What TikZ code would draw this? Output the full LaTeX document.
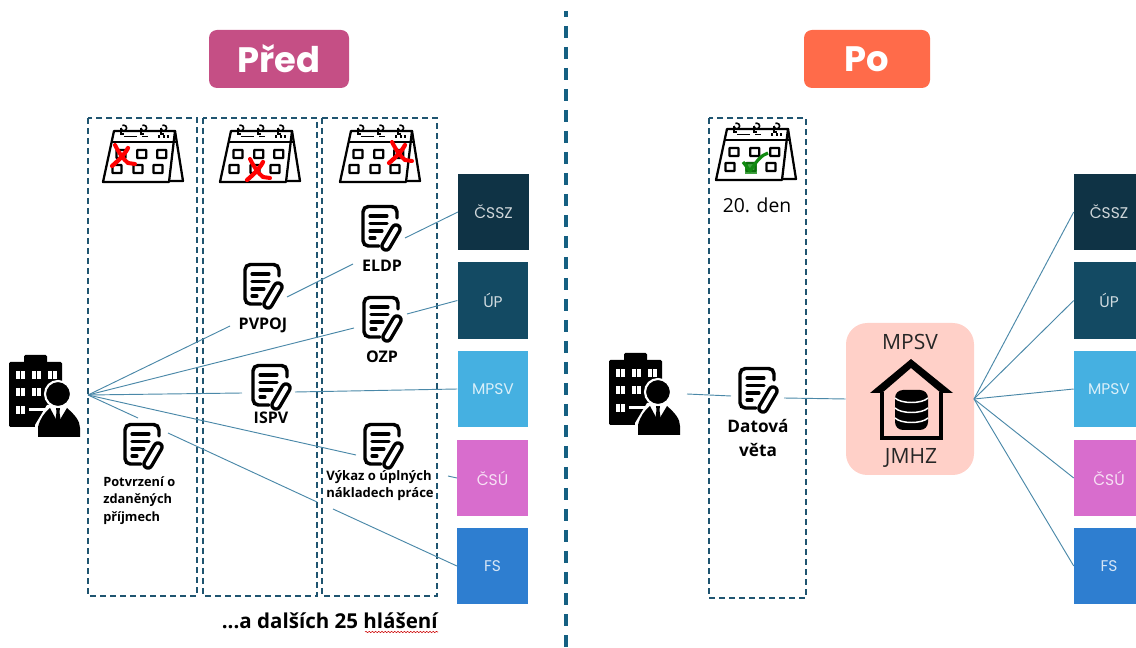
\documentclass[tikz,border=0pt]{standalone}
\usepackage{fontspec}
\setmainfont{Open Sans}
\newfontfamily\titlefont{Poppins}
\usetikzlibrary{decorations.pathmorphing}
\definecolor{dashc}{HTML}{1F5470}
\definecolor{divc}{HTML}{156082}
\definecolor{linkc}{HTML}{4A88A8}
\definecolor{cPre}{HTML}{C54F85}
\definecolor{cPo}{HTML}{FF6B4A}
\definecolor{cA}{HTML}{0F3345}
\definecolor{cB}{HTML}{134A63}
\definecolor{cC}{HTML}{45B0E1}
\definecolor{cD}{HTML}{D86DCD}
\definecolor{cE}{HTML}{2E7ED0}
\definecolor{cHub}{HTML}{FFD0C8}
\definecolor{cOk}{HTML}{108A10}
\tikzset{
  x=0.75pt,y=-0.75pt,
  column/.style={draw=dashc,line width=1pt,dash pattern=on 4.5pt off 3pt},
  link/.style={draw=linkc,line width=0.7pt},
  agency/.style={rectangle,inner sep=0,text=white,font=\titlefont\fontsize{11.6}{13}\selectfont,text opacity=.8,minimum width=53pt,minimum height=57.5pt},
  agencyr/.style={agency,minimum width=46.5pt},
  title/.style={rectangle,rounded corners=6pt,text=white,font=\titlefont\bfseries\fontsize{26.5}{30}\selectfont,inner sep=0,minimum height=43.5pt},
  lbl/.style={font=\bfseries\fontsize{12}{14}\selectfont,inner sep=0,text=black},
  calendar/.pic={
    \draw[black,line width=1.7pt,line join=round] (72,6) -- (80,56) -- (66,56);
    \draw[black,line width=1.7pt,line join=round] (11,6) -- (72,6) -- (66,57) -- (0,57) -- cycle;
    \draw[black,line width=1.7pt] (8,17) -- (73,17);
    \foreach \r in {20,40,60}{
      \fill[white] (\r-3,1) rectangle (\r+3,5);
      \draw[black,line width=1.2pt] (\r-2,3) arc (180:-120:2.8);
      \draw[black,line width=1.2pt] (\r-2,3) -- (\r-2,9) -- (\r+1,9);
    }
    \draw[black,line width=1.3pt] (21,11.5) -- (34,11.5) (39,11.5) -- (45,11.5);
    \foreach \q in {55,59.5,64}{\fill[black] (\q,10.5) rectangle ++(2.2,2.2);}
    \foreach \q/\p in {18/29,38.7/29,58.7/29,14/44,35/44,55/44}
      \draw[black,line width=1.7pt,rounded corners=.4pt] (\q-4.5,\p-4) rectangle ++(9,8);
  },
  doc/.pic={
    \draw[black,line width=2.6pt,rounded corners=4pt,line cap=round]
      (17,41) -- (1,41) -- (1,1.5) -- (35,1.5) -- (35,13);
    \draw[black,line width=2.3pt,line cap=round] (8,11) -- (25,11) (8,18.5) -- (25,18.5) (8,26) -- (20,26) (8,33) -- (13,33);
    \draw[black,line width=8.6pt,line cap=round] (34,24) -- (24,41);
    \draw[white,line width=3.4pt,line cap=round] (34,24) -- (24,41);
  },
  employer/.pic={
    \fill[black,rounded corners=1pt] (15,0) rectangle (38,10);
    \fill[black,rounded corners=1pt] (0,7) rectangle (53,72);
    \foreach \q/\p in {7/16,23/16,39/16,7/33,23/33,7/51}{
      \fill[white] (\q,\p) rectangle ++(3.6,8);
      \fill[white] (\q+5,\p) rectangle ++(3.6,8);
    }
    \fill[white] (20,53) rectangle (36,56);
    \fill[white] (26,82) -- (26,70) -- (38,50) -- (61,50) -- (53,82) -- cycle;
    \fill[black] (29,82) -- (29,72) .. controls (31,64) and (35,58) .. (41,53) -- (49,68) -- (58,53) .. controls (66,60) and (71,66) .. (71,73) -- (71,82) -- cycle;
    \fill[black] (47,53) -- (51,53) -- (50.5,57) -- (52,68) -- (49,73) -- (46,68) -- (47.5,57) -- cycle;
    \fill[black,draw=white,line width=1.6pt] (49,39) circle (13);
  },
  cross/.pic={
    \draw[red,line width=3pt,line cap=round] (-7,-11) .. controls (-3,-3) and (2,4) .. (6,7) -- (13,8);
    \draw[red,line width=3.2pt,line cap=round] (6,-8) .. controls (3,-2) and (-4,5) .. (-10,10);
  }
}
\begin{document}
\begin{tikzpicture}
\useasboundingbox (0,0) rectangle (1136,648);
% divider
\draw[divc,line width=2.6pt,dash pattern=on 9pt off 6.75pt,dash phase=4.5pt] (566,11) -- (566,648);
% titles
\node[title,fill=cPre,minimum width=105pt] (pred) at (279,59) {Před};
\node[title,fill=cPo,minimum width=94.5pt] (po) at (867,59) {Po};
% columns
\draw[column] (88,118) rectangle (197,596);
\draw[column] (203,118) rectangle (317,596);
\draw[column] (322,118) rectangle (437,596);
\draw[column] (709,118) rectangle (806,598);
% agencies left
\node[agency,fill=cA] (lA) at (493.5,212) {ČSSZ};
\node[agency,fill=cB] (lB) at (493,300.5) {ÚP};
\node[agency,fill=cC] (lC) at (493,389) {MPSV};
\node[agency,fill=cD] (lD) at (492.5,478) {ČSÚ};
\node[agency,fill=cE] (lE) at (492.5,566) {FS};
% agencies right
\node[agencyr,fill=cA] (rA) at (1105,212) {\hspace{6pt}ČSSZ};
\node[agencyr,fill=cB] (rB) at (1105,300.5) {\hspace{6pt}ÚP};
\node[agencyr,fill=cC] (rC) at (1105,389) {\hspace{6pt}MPSV};
\node[agencyr,fill=cD] (rD) at (1105,478) {\hspace{6pt}ČSÚ};
\node[agencyr,fill=cE] (rE) at (1105,566) {\hspace{6pt}FS};
% calendars
\pic at (103,125) {calendar};
\pic at (220,125) {calendar};
\pic at (340,125) {calendar};
\pic at (716,123) {calendar};
\pic at (122,156) {cross};
\pic at (257,170) {cross};
\pic at (399,153) {cross};
\fill[cOk,opacity=.8] (745,162) rectangle (757,174);
\draw[cOk,line width=2.4pt,line join=round] (743,162) -- (750,171) .. controls (756,162) and (761,155) .. (768,153);
% documents
\pic at (244,263) {doc};
\pic at (252,364) {doc};
\pic at (362,205) {doc};
\pic at (363,296) {doc};
\pic at (364,423) {doc};
\pic at (124,423) {doc};
\pic at (739,367) {doc};
% employers
\pic at (9,355) {employer};
\pic at (609,353) {employer};
% labels
\node[lbl] (t1) at (263,325) {PVPOJ};
\node[lbl] (t2) at (271,418) {ISPV};
\node[lbl] (t3) at (382,266) {ELDP};
\node[lbl] (t4) at (382,357) {OZP};
\node[lbl,align=left,anchor=north west,font=\bfseries\fontsize{9.8}{12.9}\selectfont] (t5) at (326,470) {Výkaz o úplných\\nákladech práce};
\node[lbl,align=left,anchor=north west,font=\bfseries\fontsize{9.6}{13.2}\selectfont] (t6) at (103,476) {Potvrzení o\\zdaněných\\příjmech};
\node[lbl,align=center,font=\bfseries\fontsize{12.9}{18}\selectfont] (t7) at (758,438) {Datová\\věta};
\node[lbl,font=\fontsize{14.5}{16}\selectfont] (t8) at (757,205) {20. den};
\node[lbl,anchor=east,font=\bfseries\fontsize{15.4}{18}\selectfont] (t9) at (438,621) {...a dalších 25 hlášení};
\draw[red!80!black,line width=.4pt,decorate,decoration={snake,amplitude=.5pt,segment length=2.4pt}] (365,632) -- (438,632);
% hub
\node[rectangle,fill=cHub,rounded corners=16pt,minimum width=96pt,minimum height=114pt,inner sep=0] (hub) at (910,399) {};
\node[inner sep=0,font=\fontsize{15.8}{18}\selectfont,text=black!85] (hubt) at (910,342) {MPSV};
\node[inner sep=0,font=\fontsize{15.8}{18}\selectfont,text=black!85] (hubb) at (911,458) {JMHZ};
\draw[black,line width=3pt,line join=miter] (882,392) -- (882,438.5) -- (941,438.5) -- (941,392);
\fill[black] (870,393) -- (911,359) -- (953,393) -- (941,393) -- (911,368) -- (882,393) -- cycle;
\fill[black,rounded corners=6pt] (895,390) rectangle (928,430);
\draw[white,line width=1.1pt] (895,398) .. controls (901,404) and (922,404) .. (928,398)
  (895,408) .. controls (901,414) and (922,414) .. (928,408)
  (895,418) .. controls (901,424) and (922,424) .. (928,418);
% connector points
\coordinate (c0) at (88,395);
\coordinate (p1) at (230,326); \coordinate (p2) at (287,297); \coordinate (e1) at (353,264);
\coordinate (e2) at (405,238);
\coordinate (o1) at (354,328); \coordinate (o2) at (407,314);
\coordinate (i1) at (242,393); \coordinate (i2) at (295,392);
\coordinate (v1) at (356,455); \coordinate (v2) at (448,476);
\coordinate (z1) at (138,418); \coordinate (z2) at (168,433); \coordinate (z3) at (317,502); \coordinate (z4) at (333,509);
\coordinate (a1) at (687,394); \coordinate (a2) at (731,396); \coordinate (a3) at (784,398);
\coordinate (c1) at (974,399);
\draw[link] (c0) -- (p1);
\draw[link] (p2) -- (e1);
\draw[link] (e2) -- (lA.west);
\draw[link] (c0) -- (o1);
\draw[link] (o2) -- (lB.west);
\draw[link] (c0) -- (i1);
\draw[link] (i2) -- (lC.west);
\draw[link] (c0) -- (v1);
\draw[link] (v2) -- (lD.west);
\draw[link] (c0) -- (z1);
\draw[link] (z2) -- (z3);
\draw[link] (z4) -- (lE.west);
\draw[link] (a1) -- (a2);
\draw[link] (a3) -- (hub.west);
\foreach \t in {rA,rB,rC,rD,rE}
  \draw[link] (c1) -- (\t.west);
\end{tikzpicture}
\end{document}
